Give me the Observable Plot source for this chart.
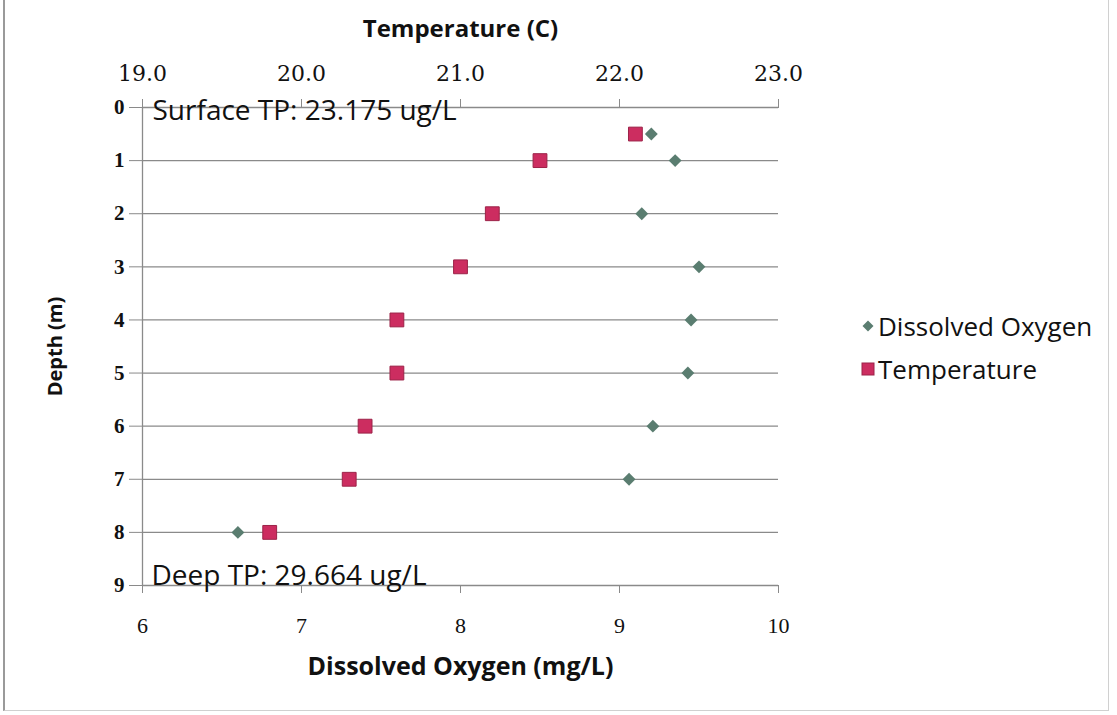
<!DOCTYPE html>
<html>
<head>
<meta charset="utf-8">
<script src="https://cdn.jsdelivr.net/npm/d3@7"></script>
<script src="https://cdn.jsdelivr.net/npm/@observablehq/plot@0.6"></script>
<style>
  html, body { margin: 0; padding: 0; background: #fff; }
  #wrap { position: relative; width: 1117px; height: 715px; overflow: hidden; }
  #frame { position: absolute; left: 3px; top: -2px; width: 1106px; height: 713px;
           border: 1px solid #d0d0d0; border-left: 2px solid #9a9a9a; box-sizing: border-box; }
  #legend { position: absolute; left: 861px; top: 304px; font-family: "Open Sans", sans-serif;
            font-size: 26px; color: #111; }
  #legend .row { display: flex; align-items: center; height: 43px; }
  #legend svg { margin-right: 3px; }
</style>
</head>
<body>
<div id="wrap"><div id="frame"></div><div id="legend"></div></div>
<script>
// ---- data ----
const depths = [0.5, 1, 2, 3, 4, 5, 6, 7, 8];
const dissolvedOxygen = [9.2, 9.35, 9.14, 9.5, 9.45, 9.43, 9.21, 9.06, 6.6];
const temperature = [22.1, 21.5, 21.2, 21.0, 20.6, 20.6, 20.4, 20.3, 19.8];
const doTicks = [6, 7, 8, 9, 10];
const tempTicks = [19.0, 20.0, 21.0, 22.0, 23.0];
const depthTicks = [0, 1, 2, 3, 4, 5, 6, 7, 8, 9];
const gridDepths = [1, 2, 3, 4, 5, 6, 7, 8];
const seriesNames = ["Dissolved Oxygen", "Temperature"];
const titles = { top: "Temperature (C)", bottom: "Dissolved Oxygen (mg/L)", left: "Depth (m)" };
const notes = { surface: "Surface TP: 23.175 ug/L", deep: "Deep TP: 29.664 ug/L" };

const colors = { do: "#5a7d70", temp: "#cc2d60", tempStroke: "#9c2348" };

// temperature axis shares the pixel span of the DO axis: 19..23 <-> 6..10
const tempToDo = t => (t - tempTicks[0]) + doTicks[0];

const rows = depths.map((d, i) => ({ depth: d, dox: dissolvedOxygen[i], temp: temperature[i] }));

const serif = "'Liberation Serif', serif";
const wideSerif = "'DejaVu Serif', serif";
const sans = "'Open Sans', sans-serif";

const chart = Plot.plot({
  width: 1117,
  height: 715,
  marginLeft: 142,
  marginRight: 339,
  marginTop: 107,
  marginBottom: 130,
  style: { background: "transparent", fontFamily: serif, fontSize: "18px", color: "#111" },
  x: { domain: [doTicks[0], doTicks[doTicks.length - 1]], axis: null },
  y: { domain: [depthTicks[0], depthTicks[depthTicks.length - 1]], reverse: true, axis: null },
  marks: [
    Plot.ruleY(gridDepths, { stroke: "#8a8a8a", strokeWidth: 1.3 }),
    Plot.ruleY([depthTicks[0], depthTicks[depthTicks.length - 1]], { stroke: "#8a8a8a", strokeWidth: 1.3 }),
    Plot.ruleX([doTicks[0]], { stroke: "#8a8a8a", strokeWidth: 1.3 }),
    Plot.axisX({ anchor: "bottom", ticks: doTicks, tickSize: 8, tickPadding: 24, tickFormat: d => String(d),
                 label: null, stroke: "#8a8a8a", ariaLabel: "bottom-ticks" }),
    Plot.axisX({ anchor: "top", ticks: doTicks, tickSize: 9, tickPadding: 18,
                 tickFormat: d => tempTicks[doTicks.indexOf(d)].toFixed(1), label: null, stroke: "#8a8a8a",
                 fontFamily: wideSerif, ariaLabel: "top-ticks" }),
    Plot.axisY({ anchor: "left", ticks: depthTicks, tickSize: 13, tickPadding: 5, tickFormat: d => String(d),
                 label: null, stroke: "#8a8a8a", fontWeight: "bold", ariaLabel: "left-ticks" }),
    Plot.text([titles.top], { frameAnchor: "top", dy: -88, fontFamily: sans, fontWeight: "bold", fontSize: 24 }),
    Plot.text([titles.bottom], { frameAnchor: "bottom", dy: 89, fontFamily: sans, fontWeight: "bold", fontSize: 25 }),
    Plot.text([titles.left], { frameAnchor: "left", dx: -87, textAnchor: "middle", rotate: -90, fontFamily: sans, fontWeight: "bold", fontSize: 20 }),
    Plot.text([notes.surface], { frameAnchor: "top-left", dx: 10, dy: -7, fontFamily: sans, fontSize: 28 }),
    Plot.text([notes.deep], { frameAnchor: "bottom-left", dx: 9, dy: -1, fontFamily: sans, fontSize: 28 }),
    Plot.dot(rows, { x: "dox", y: "depth", symbol: "diamond2", r: 5.8, fill: colors.do, stroke: "none" }),
    Plot.dot(rows, { x: d => tempToDo(d.temp), y: "depth", symbol: "square", r: 7.8, fill: colors.temp, stroke: colors.tempStroke, strokeWidth: 1 })
  ]
});
chart.style.position = "absolute";
chart.style.left = "0px";
chart.style.top = "0px";
document.getElementById("wrap").appendChild(chart);

// tick label typography (set on every text of each axis)
function styleTexts(selector, px, family) {
  chart.querySelectorAll(selector).forEach(g => {
    g.style.setProperty("font-size", px + "px", "important");
    if (family) g.style.setProperty("font-family", family, "important");
    g.querySelectorAll("text").forEach(t => {
      t.setAttribute("font-size", px);
      t.style.setProperty("font-size", px + "px", "important");
      if (family) t.style.setProperty("font-family", family, "important");
    });
  });
}
styleTexts('[aria-label^="bottom-ticks"]', 22);
styleTexts('[aria-label^="top-ticks"]', 22, wideSerif);
styleTexts('[aria-label^="left-ticks"]', 21);

// legend
const legend = d3.select("#legend");
const sym = [
  { name: seriesNames[0], draw: s => s.append("path").attr("d", "M7,1.5 L12.5,7 L7,12.5 L1.5,7 Z").attr("fill", colors.do) },
  { name: seriesNames[1], draw: s => s.append("rect").attr("x", 1).attr("y", 1).attr("width", 12).attr("height", 12).attr("fill", colors.temp).attr("stroke", colors.tempStroke) }
];
sym.forEach(s => {
  const row = legend.append("div").attr("class", "row");
  const svg = row.append("svg").attr("width", 14).attr("height", 14);
  s.draw(svg);
  row.append("span").text(s.name);
});
</script>
</body>
</html>
